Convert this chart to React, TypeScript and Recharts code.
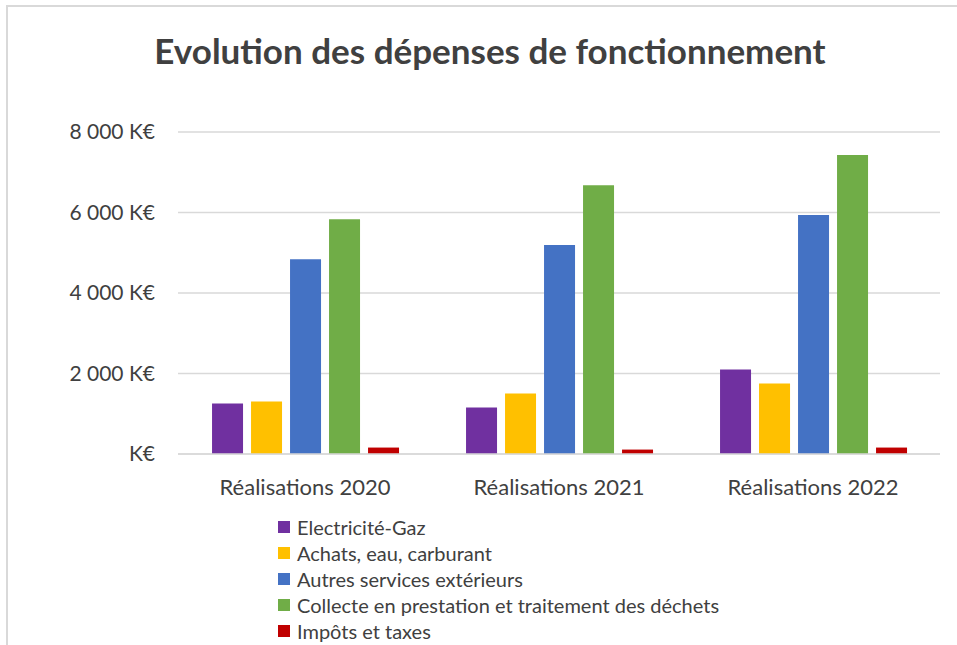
import React from "react";
import { BarChart, Bar, XAxis, YAxis, CartesianGrid } from "recharts";

const categories = ["Réalisations 2020", "Réalisations 2021", "Réalisations 2022"];
const electriciteGaz = [1255, 1155, 2100];
const achatsEau = [1305, 1505, 1750];
const autresServices = [4840, 5190, 5940];
const collecte = [5830, 6680, 7430];
const impots = [160, 110, 160];
const yTicks = [0, 2000, 4000, 6000, 8000];

const seriesNames = [
  "Electricité-Gaz",
  "Achats, eau, carburant",
  "Autres services extérieurs",
  "Collecte en prestation et traitement des déchets",
  "Impôts et taxes",
];
const seriesKeys = ["s0", "s1", "s2", "s3", "s4"];
const seriesColors = ["#7030A0", "#FFC000", "#4472C4", "#70AD47", "#C00000"];
const seriesValues = [electriciteGaz, achatsEau, autresServices, collecte, impots];

const data = categories.map((c, i) => {
  const row: Record<string, string | number> = { name: c };
  seriesKeys.forEach((k, j) => {
    row[k] = seriesValues[j][i];
  });
  return row;
});

const FONT = "Lato, 'Open Sans', sans-serif";
const TEXT = "#404040";

const fmt = (v: number) =>
  v === 0 ? "K€" : v.toString().replace(/\B(?=(\d{3})+(?!\d))/g, " ") + " K€";

export default function App() {
  return (
    <div
      style={{
        position: "absolute",
        left: 0,
        top: 0,
        width: 957,
        height: 645,
        overflow: "hidden",
        background: "#fff",
        fontFamily: FONT,
      }}
    >
      <div style={{ position: "absolute", left: 6, top: 5, width: 951, height: 2, background: "#d9d9d9" }} />
      <div style={{ position: "absolute", left: 6, top: 5, width: 2, height: 640, background: "#d9d9d9" }} />
      <div
        style={{
          position: "absolute",
          left: 490,
          top: 25,
          transform: "translateX(-50%)",
          whiteSpace: "nowrap",
          fontSize: 35,
          fontWeight: 700,
          color: TEXT,
          lineHeight: "50px",
        }}
      >
        Evolution des dépenses de fonctionnement
      </div>
      <div style={{ position: "absolute", left: 0, top: 0 }}>
        <BarChart
          width={957}
          height={645}
          data={data}
          margin={{ top: 132, right: 17, left: 78, bottom: 161 }}
          barCategoryGap="13.4%"
          barGap={8}
        >
          <CartesianGrid vertical={false} stroke="#d9d9d9" strokeWidth={1.5} />
          <XAxis
            dataKey="name"
            height={30}
            tickSize={0}
            tickMargin={25}
            axisLine={{ stroke: "#d9d9d9", strokeWidth: 1.5 }}
            tick={{ fill: TEXT, fontSize: 22, fontFamily: FONT }}
          />
          <YAxis
            width={100}
            domain={[0, 8000]}
            ticks={yTicks}
            tickFormatter={fmt}
            axisLine={false}
            tickSize={0}
            tickMargin={23}
            tick={{ fill: TEXT, fontSize: 21, fontFamily: FONT }}
          />
          {seriesKeys.map((k, j) => (
            <Bar key={k} dataKey={k} name={seriesNames[j]} fill={seriesColors[j]} isAnimationActive={false} />
          ))}
        </BarChart>
      </div>
      <div style={{ position: "absolute", left: 278, top: 514 }}>
        {seriesNames.map((n, j) => (
          <div
            key={n}
            style={{ display: "flex", alignItems: "center", height: 26, whiteSpace: "nowrap" }}
          >
            <span
              style={{
                display: "inline-block",
                width: 12,
                height: 12,
                background: seriesColors[j],
                marginRight: 7,
              }}
            />
            <span style={{ fontSize: 20, color: TEXT }}>{n}</span>
          </div>
        ))}
      </div>
    </div>
  );
}
